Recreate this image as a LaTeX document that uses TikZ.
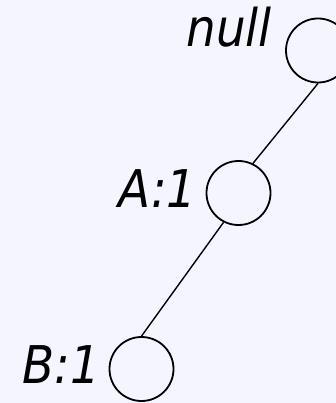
\documentclass[tikz,border=0pt]{standalone}
\usepackage{fontspec}
\setmainfont{DejaVu Sans Condensed}
\definecolor{bg}{RGB}{245,245,255}
\begin{document}
\begin{tikzpicture}[x=1pt,y=-1pt,
  item/.style={circle,draw=black,line width=1.8pt,minimum size=64pt,inner sep=0pt},
  lbl/.style={font=\fontsize{52}{52}\selectfont\itshape,inner sep=0pt,anchor=base east},
  link/.style={draw=black,line width=1.4pt}]
\useasboundingbox (0,0) rectangle (336,403);
\clip (0,0) rectangle (336,403);
\fill[bg] (0,0) rectangle (336,403);
\node[item] (top) at (318,50.5) {};
\node[item] (mid) at (238.5,193) {};
\node[item] (bot) at (141.5,369) {};
\node[lbl] (ltop) at (272,47) {null};
\node[lbl] (lmid) at (197,207) {A:1};
\node[lbl] (lbot) at (100,383) {B:1};
\draw[link] (top.south) -- (mid.64);
\draw[link] (mid.243) -- (bot.north);
\end{tikzpicture}
\end{document}
